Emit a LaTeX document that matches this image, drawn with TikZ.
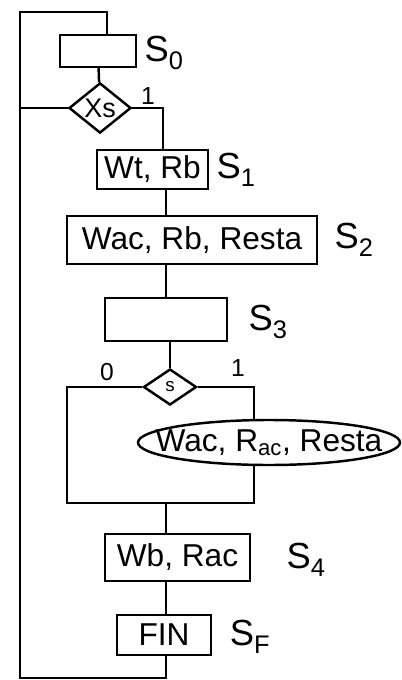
\documentclass[tikz,border=0pt]{standalone}
\usepackage{fontspec}
\setmainfont{Liberation Sans}
\usetikzlibrary{shapes.geometric}

\begin{document}
\begin{tikzpicture}[
    x=0.03cm, y=-0.03cm,
    state/.style={draw,rectangle,line width=2.1pt,inner sep=0pt,font=\fontsize{27}{32}\selectfont},
    cond/.style={draw,diamond,line width=2.1pt,inner sep=0pt},
    tag/.style={font=\fontsize{31}{36}\selectfont},
    bit/.style={font=\fontsize{21}{24}\selectfont},
    wire/.style={line width=2.1pt}
]
\useasboundingbox (0,0) rectangle (402,680);

% columns of the chart
\coordinate (spine) at (166,0);
\coordinate (entry) at (107,0);
\coordinate (branch1) at (163,0);
\coordinate (looptop) at (20,12);
\coordinate (loopbot) at (20,678);
\coordinate (lcol) at (67,503);
\coordinate (rcol) at (254,503);

% states
\node[state,minimum width=2.28cm,minimum height=0.96cm] (s0) at (98,51) {};
\node[cond,minimum width=1.86cm,minimum height=1.26cm,font=\fontsize{23}{26}\selectfont] (xs) at (100,108) {Xs};
\node[state,minimum width=3.33cm,minimum height=1.17cm] (s1) at (152.5,169.5) {Wt, Rb};
\node[state,minimum width=7.5cm,minimum height=1.44cm] (s2) at (192,240) {Wac, Rb, Resta};
\node[state,minimum width=3.66cm,minimum height=1.29cm] (s3) at (166,319.5) {};
\node[cond,minimum width=1.59cm,minimum height=1.08cm,font=\fontsize{16}{18}\selectfont] (s) at (170,387) {s};
\node[draw,ellipse,line width=2.1pt,minimum width=7.86cm,minimum height=1.35cm] (ell) at (269,442.5) {};
\node[font=\fontsize{27}{32}\selectfont] (elltext) at (ell) {Wac, R\textsubscript{ac}, Resta};
\node[state,minimum width=4.35cm,minimum height=1.41cm] (s4) at (177.5,557.5) {Wb, Rac};
\node[state,minimum width=2.82cm,minimum height=1.2cm] (fin) at (164,635) {FIN};

% state names and branch values
\node[tag] (l0) at (164,53) {S\textsubscript{0}};
\node[bit] (one1) at (148,96) {1};
\node[tag] (l1) at (236,170) {S\textsubscript{1}};
\node[tag] (l2) at (354,240) {S\textsubscript{2}};
\node[tag] (l3) at (268,322) {S\textsubscript{3}};
\node[bit] (zero2) at (107,372) {0};
\node[bit] (one2) at (238,368) {1};
\node[tag] (l4) at (306,560) {S\textsubscript{4}};
\node[tag] (lf) at (250,637) {S\textsubscript{F}};

% connectors
\draw[wire] (fin.south -| spine) -- (loopbot -| spine) -- (loopbot) -- (looptop)
    -- (looptop -| entry) -- (s0.north -| entry);
\draw[wire] (s0) -- (xs);
\draw[wire] (xs.west) -- (xs.west -| looptop);
\draw[wire] (xs.east) -- (xs.east -| branch1) -- (s1.north -| branch1);
\draw[wire] (s1.south -| spine) -- (s2.north -| spine);
\draw[wire] (s2.south -| spine) -- (s3.north -| spine);
\draw[wire] (s3.south -| s.north) -- (s.north);
\draw[wire] (s.west) -- (s.west -| lcol) -- (lcol) -- (rcol) -- (ell.south -| rcol);
\draw[wire] (s.east) -- (s.east -| rcol) -- (ell.north -| rcol);
\draw[wire] (lcol -| spine) -- (s4.north -| spine);
\draw[wire] (s4.south -| spine) -- (fin.north -| spine);
\end{tikzpicture}
\end{document}
